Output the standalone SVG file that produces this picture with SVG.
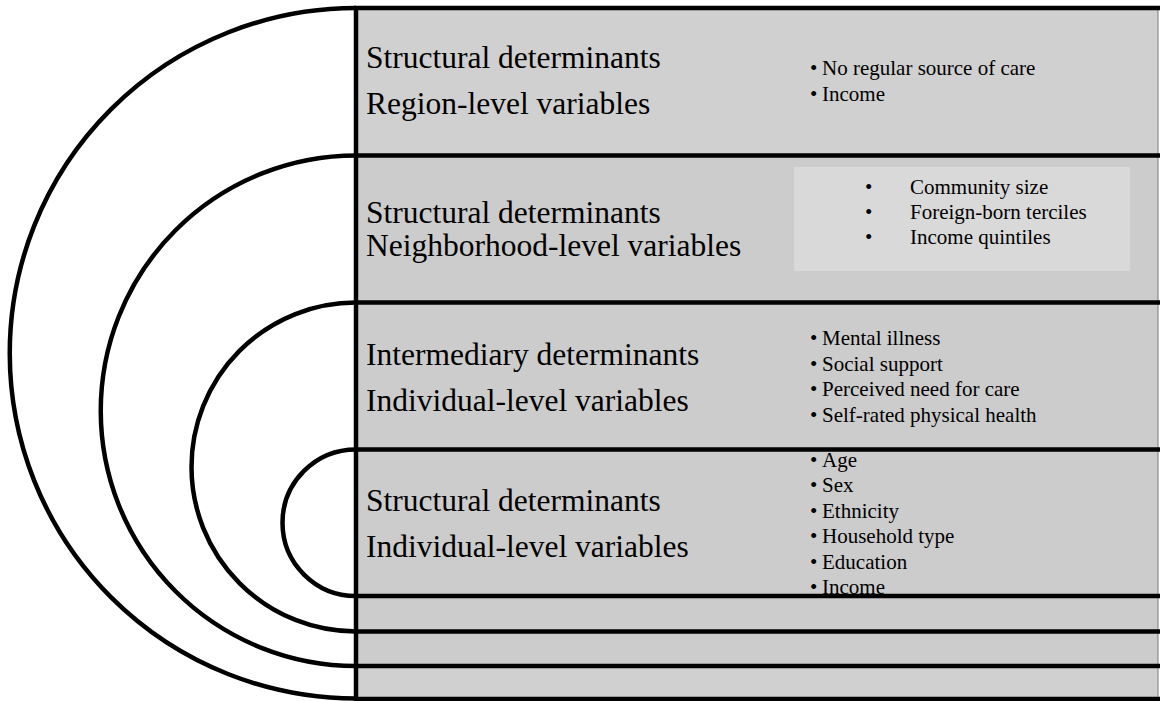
<svg xmlns="http://www.w3.org/2000/svg" width="1160" height="701" viewBox="0 0 1160 701">
<style>
.band{fill:#cccccc;stroke:#7a7a7a;stroke-width:1}
.band1{fill:#d0d0d0;stroke:#7a7a7a;stroke-width:1}
.inner{fill:#d9d9d9;stroke:none}
.lbl{font-family:"Liberation Serif","Times New Roman",serif;font-size:31.5px;fill:#000}
.bul{font-family:"Liberation Serif","Times New Roman",serif;font-size:21px;fill:#000}
.blk{stroke:#000;stroke-width:4.5;fill:none}
.arc{stroke:#000;stroke-width:4.5;fill:none}
</style>
<rect width="1160" height="701" fill="#ffffff"/>
<g id="row-region">
<rect class="band1" x="356" y="8" width="802" height="147.5"/>
<text class="lbl" x="366" y="68">Structural determinants</text>
<text class="lbl" x="366" y="114">Region-level variables</text>
<text class="bul" x="810" y="75">•<tspan x="822">No regular source of care</tspan></text>
<text class="bul" x="810" y="100.5">•<tspan x="822">Income</tspan></text>
</g>
<g id="row-neighborhood">
<rect class="band" x="356" y="155.5" width="802" height="147"/>
<rect class="inner" x="794" y="167" width="336" height="104"/>
<text class="lbl" x="366" y="222.5">Structural determinants</text>
<text class="lbl" x="366" y="256">Neighborhood-level variables</text>
<text class="bul" x="865" y="193.5">•<tspan x="910">Community size</tspan></text>
<text class="bul" x="865" y="219">•<tspan x="910">Foreign-born terciles</tspan></text>
<text class="bul" x="865" y="244">•<tspan x="910">Income quintiles</tspan></text>
</g>
<g id="row-intermediary">
<rect class="band" x="356" y="302.5" width="802" height="147"/>
<text class="lbl" x="366" y="365">Intermediary determinants</text>
<text class="lbl" x="366" y="411">Individual-level variables</text>
<text class="bul" x="810" y="345">•<tspan x="822">Mental illness</tspan></text>
<text class="bul" x="810" y="370.5">•<tspan x="822">Social support</tspan></text>
<text class="bul" x="810" y="396">•<tspan x="822">Perceived need for care</tspan></text>
<text class="bul" x="810" y="421.5">•<tspan x="822">Self-rated physical health</tspan></text>
</g>
<g id="row-individual">
<rect class="band" x="356" y="449.5" width="802" height="146.5"/>
<text class="lbl" x="366" y="511">Structural determinants</text>
<text class="lbl" x="366" y="557">Individual-level variables</text>
<text class="bul" x="810" y="466.5">•<tspan x="822">Age</tspan></text>
<text class="bul" x="810" y="492">•<tspan x="822">Sex</tspan></text>
<text class="bul" x="810" y="517.6">•<tspan x="822">Ethnicity</tspan></text>
<text class="bul" x="810" y="543.2">•<tspan x="822">Household type</tspan></text>
<text class="bul" x="810" y="568.8">•<tspan x="822">Education</tspan></text>
<text class="bul" x="810" y="594.4">•<tspan x="822">Income</tspan></text>
</g>
<g id="row-empty-1"><rect class="band" x="356" y="596" width="802" height="35.5"/></g>
<g id="row-empty-2"><rect class="band" x="356" y="631.5" width="802" height="34.5"/></g>
<g id="row-empty-3"><rect class="band1" x="356" y="666" width="802" height="33"/></g>
<g id="connectors">
<path class="arc" d="M356,8 A346,345 0 0,0 356,698.5"/>
<path class="arc" d="M356,155.5 A255,255 0 0,0 356,666"/>
<path class="arc" d="M356,302.5 A164.5,164.5 0 0,0 356,631.5"/>
<path class="arc" d="M356,449.5 A73.5,73.25 0 0,0 356,596"/>
<line class="blk" x1="354" y1="8" x2="1160" y2="8"/>
<line class="blk" x1="354" y1="155.5" x2="1160" y2="155.5"/>
<line class="blk" x1="354" y1="302.5" x2="1160" y2="302.5"/>
<line class="blk" x1="354" y1="449.5" x2="1160" y2="449.5"/>
<line class="blk" x1="354" y1="596" x2="1160" y2="596"/>
<line class="blk" x1="354" y1="631.5" x2="1160" y2="631.5"/>
<line class="blk" x1="354" y1="666" x2="1160" y2="666"/>
<line class="blk" x1="354" y1="699" x2="1160" y2="699"/>
<line class="blk" x1="356" y1="6" x2="356" y2="701"/>
</g>
</svg>
